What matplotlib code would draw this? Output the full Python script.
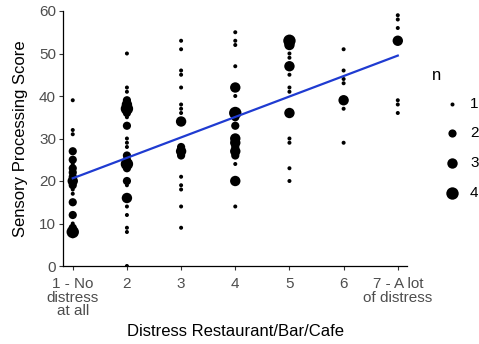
import numpy as np
import matplotlib
matplotlib.use("Agg")
import matplotlib.pyplot as plt

plt.rcParams['font.family'] = ['Liberation Sans', 'DejaVu Sans']

# ---- data: (score, count) per distress level ----
col1 = [(39,1),(32,1),(31,1),(27,2),(25,2),(24,1),(23,2),(22,2),(21,2),(20,3),(19,2),(18,1),(17,1),(15,2),(12,2),(10,1),(9,2),(8,4),(7,1)]
col2 = [(50,1),(42,1),(41,1),(39,2),(38,3),(37,4),(36,2),(35,1),(33,2),(30,1),(29,1),(28,1),(26,2),(25,2),(24,4),(23,2),(20,2),(19,1),(16,3),(14,1),(12,1),(9,1),(8,1),(0,1)]
col3 = [(53,1),(51,1),(46,1),(45,1),(42,1),(38,1),(37,1),(36,1),(34,3),(28,2),(27,3),(26,2),(21,1),(19,1),(18,1),(14,1),(9,1)]
col4 = [(55,1),(53,1),(52,1),(47,1),(42,3),(40,1),(36,4),(35,2),(33,2),(30,3),(29,3),(28,2),(27,3),(26,2),(24,1),(20,3),(14,1)]
col5 = [(53,4),(52,3),(50,1),(49,1),(47,3),(45,1),(42,1),(41,1),(36,3),(30,1),(29,1),(23,1),(20,1)]
col6 = [(51,1),(46,1),(44,1),(43,1),(39,3),(37,1),(29,1)]
col7 = [(59,1),(58,1),(56,1),(53,3),(39,1),(38,1),(36,1)]
columns = [col1, col2, col3, col4, col5, col6, col7]

x_ticks = [1, 2, 3, 4, 5, 6, 7]
x_labels = ["1 - No\ndistress\nat all", "2", "3", "4", "5", "6", "7 - A lot\nof distress"]
y_ticks = [0, 10, 20, 30, 40, 50, 60]
legend_n = [1, 2, 3, 4]

xs, ys, ns = [], [], []
for xv, col in zip(x_ticks, columns):
    for yv, n in col:
        xs.append(xv); ys.append(yv); ns.append(n)
xs = np.array(xs, float); ys = np.array(ys, float); ns = np.array(ns, float)

DPI = 100
W, H = 479, 344
fig = plt.figure(figsize=(W/DPI, H/DPI), dpi=DPI)
ax = fig.add_axes([63/W, 1-266/H, (407-63)/W, (266-11)/H])

px2pt = 72/DPI
diam_px = {1: 4.0, 2: 8.2, 3: 10.4, 4: 12.4}
sizes = np.array([(diam_px[int(n)]*px2pt)**2 for n in ns])
ax.scatter(xs, ys, s=sizes, color='black', linewidths=0, zorder=2)

# linear fit on raw observations (weighted by counts)
rx = np.repeat(xs, ns.astype(int)); ry = np.repeat(ys, ns.astype(int))
b, a = np.polyfit(rx, ry, 1)
lx = np.array([1, 7])
ax.plot(lx, a + b*lx, color='#1F3BD1', lw=1.6, zorder=3)

ax.set_xlim(0.82, 7.17)
ax.set_ylim(0, 60)
ax.set_xticks(x_ticks)
ax.set_xticklabels(x_labels, linespacing=0.95)
ax.set_yticks(y_ticks)
for s in ['top', 'right']:
    ax.spines[s].set_visible(False)
for s in ['left', 'bottom']:
    ax.spines[s].set_color('black')
    ax.spines[s].set_linewidth(0.9)
ax.tick_params(axis='both', colors='#333333', labelcolor='#4D4D4D', labelsize=11,
               length=3, width=0.8)
ax.tick_params(axis='x', pad=5)
ax.tick_params(axis='y', pad=2)
ax.set_xlabel("Distress Restaurant/Bar/Cafe", fontsize=12, color='black', labelpad=4)
ax.set_ylabel("Sensory Processing Score", fontsize=12, color='black', labelpad=8)

# legend drawn in pixel coordinates on an overlay
lg = fig.add_axes([0, 0, 1, 1], facecolor='none')
lg.set_xlim(0, W); lg.set_ylim(H, 0); lg.axis('off')
lg.text(432, 75, 'n', fontsize=12, color='black', ha='left', va='center')
leg_y = [104, 133, 163, 193]
for n, yy in zip(legend_n, leg_y):
    lg.scatter([452], [yy], s=(diam_px[n]*px2pt)**2, color='black', linewidths=0)
    lg.text(470, yy, str(n), fontsize=11, color='black', ha='left', va='center')

fig.savefig("out.png", dpi=DPI)
